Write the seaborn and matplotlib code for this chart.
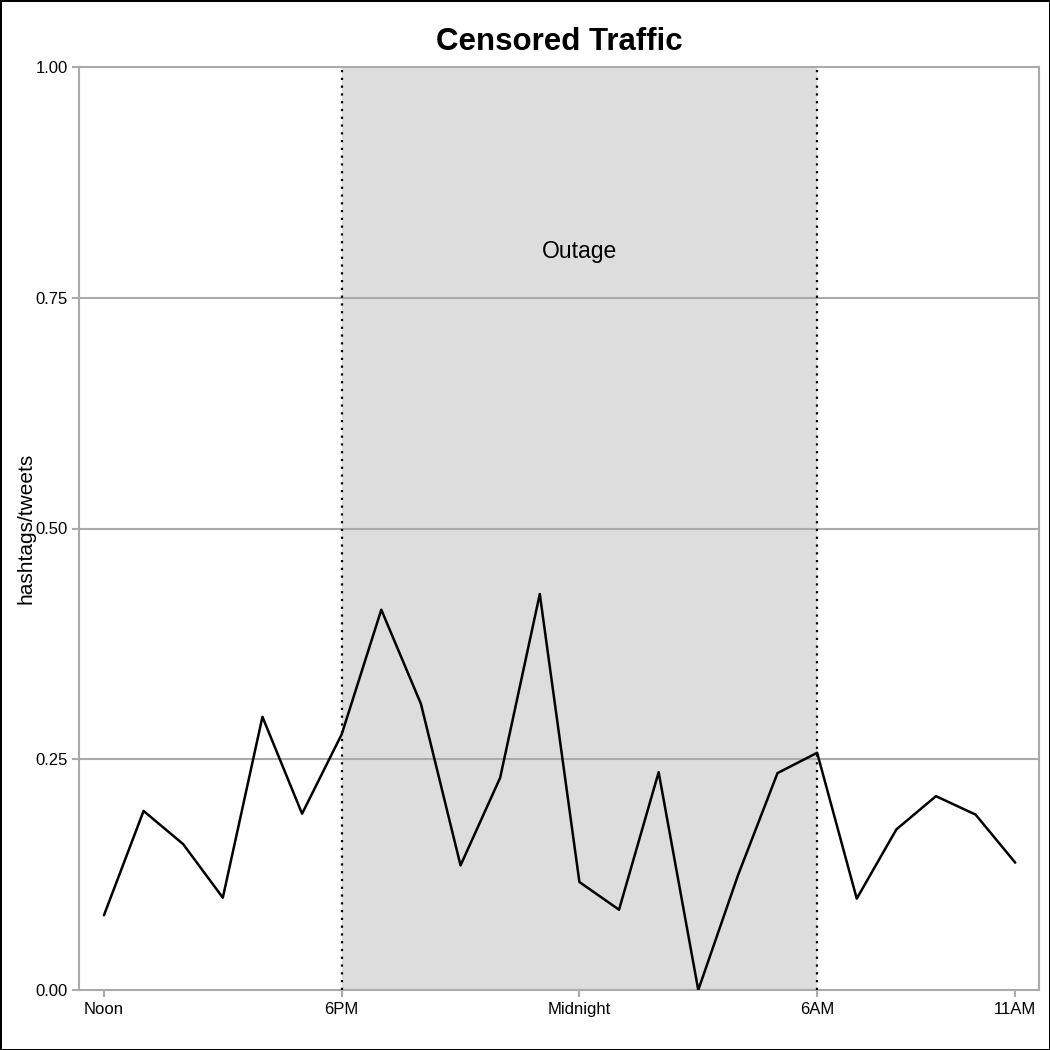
import pandas as pd
import seaborn as sns
import matplotlib.pyplot as plt

# --- DATA ---
hours = list(range(24))
ratio = [0.081, 0.194, 0.158, 0.100, 0.296, 0.191, 0.277, 0.412, 0.310, 0.135,
         0.230, 0.429, 0.117, 0.087, 0.236, 0.000, 0.124, 0.235, 0.257, 0.099,
         0.174, 0.210, 0.190, 0.138]
tick_pos = [0, 6, 12, 18, 23]
tick_labels = ['Noon', '6PM', 'Midnight', '6AM', '11AM']
outage_start, outage_end = 6, 18

df = pd.DataFrame({'hour': hours, 'ratio': ratio})

# --- STYLE ---
sns.set_style('white')
plt.rcParams['font.family'] = ['Liberation Sans', 'DejaVu Sans']
plt.rcParams['text.color'] = 'black'
plt.rcParams['axes.labelcolor'] = 'black'
GREY = '#aaaaaa'

fig = plt.figure(figsize=(10.5, 10.5), dpi=100)
fig.patch.set_edgecolor('black')
fig.patch.set_linewidth(2)
ax = fig.add_axes([79 / 1050, 60 / 1050, 960 / 1050, 923 / 1050])

# outage band + boundaries
ax.axvspan(outage_start, outage_end, color='#dddddd', zorder=0, lw=0)
for x in (outage_start, outage_end):
    ax.axvline(x, color='black', linestyle=(0, (1, 2.5)), lw=1.6, zorder=3)
for y in (0.25, 0.5, 0.75):
    ax.axhline(y, color=GREY, lw=1.5, zorder=1)

sns.lineplot(data=df, x='hour', y='ratio', color='black', lw=1.8, ax=ax, zorder=4)

ax.text(12, 0.80, 'Outage', ha='center', va='center', fontsize=16.5, color='black')

ax.set_xlim(-0.63, 23.6)
ax.set_ylim(0, 1)
ax.set_xticks(tick_pos)
ax.set_xticklabels(tick_labels)
ax.set_yticks([0, 0.25, 0.5, 0.75, 1.0])
ax.set_yticklabels(['0.00', '0.25', '0.50', '0.75', '1.00'])
ax.tick_params(axis='both', colors=GREY, labelcolor='black', labelsize=12,
               length=5, width=1.5, direction='out', bottom=True, left=True)
ax.tick_params(axis='y', pad=3)
for s in ax.spines.values():
    s.set_color(GREY)
    s.set_linewidth(1.5)

ax.set_xlabel('')
ax.set_ylabel('hashtags/tweets', fontsize=15, labelpad=0)
ax.set_title('Censored Traffic', fontsize=22.5, fontweight='bold', pad=12, color='black')

fig.savefig('out.png', dpi=100, edgecolor=fig.get_edgecolor())
